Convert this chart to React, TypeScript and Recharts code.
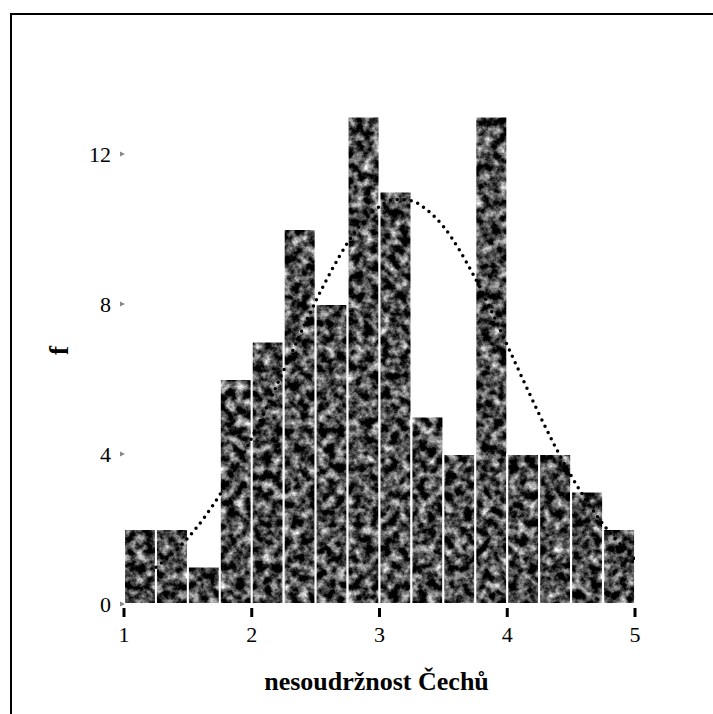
import React from 'react'
import { ComposedChart, Bar, Line, XAxis, YAxis, Label } from 'recharts'

// histogram bins (lower edge of each 0.25-wide class)
const binStarts = [1, 1.25, 1.5, 1.75, 2, 2.25, 2.5, 2.75, 3, 3.25, 3.5, 3.75, 4, 4.25, 4.5, 4.75]
const frequencies = [2, 2, 1, 6, 7, 10, 8, 13, 11, 5, 4, 13, 4, 4, 3, 2]

// fitted normal curve, read at 0.125 steps
const curveX = [
  1.25, 1.375, 1.5, 1.625, 1.75, 1.875, 2, 2.125, 2.25, 2.375, 2.5, 2.625, 2.75, 2.875, 3, 3.125,
  3.25, 3.375, 3.5, 3.625, 3.75, 3.875, 4, 4.125, 4.25, 4.375, 4.5, 4.625, 4.75, 4.875, 5,
]
const curveF = [
  0.98, 1.33, 1.76, 2.29, 2.91, 3.63, 4.43, 5.31, 6.23, 7.16, 8.07, 8.9, 9.63, 10.2, 10.6, 10.79,
  10.75, 10.5, 10.07, 9.44, 8.68, 7.82, 6.9, 5.97, 5.06, 4.2, 3.42, 2.73, 2.13, 1.63, 1.22,
]

const xTicks = [1, 2, 3, 4, 5]
const yTicks = [0, 4, 8, 12]

const xLabel = 'nesoudržnost Čechů'
const yLabel = 'f'

const histData = binStarts.map((b, i) => ({ bin: String(b), f: frequencies[i] }))
const curveData = curveX.map((x, i) => ({ x, f: curveF[i] }))

const serif = '"Liberation Serif", "Times New Roman", serif'

// the number axis sits below the hidden category axis, so its tick y runs ~29px under the plot edge
function XTick({ x, y, payload }: any) {
  return (
    <g>
      <rect x={x - 1.5} y={y - 26} width={3} height={9} fill="#000" />
      <text x={x} y={y + 8} textAnchor="middle" fontFamily={serif} fontSize={22} fill="#000">
        {payload.value}
      </text>
    </g>
  )
}

function YTick({ x, y, payload }: any) {
  return (
    <g>
      <polygon points={`${x - 4},${y - 2.5} ${x + 1},${y} ${x - 4},${y + 2.5}`} fill="#888" />
      <text x={x - 13} y={y} dy="0.35em" textAnchor="end" fontFamily={serif} fontSize={22} fill="#000">
        {payload.value}
      </text>
    </g>
  )
}

export default function App() {
  return (
    <div style={{ position: 'absolute', left: 0, top: 0, width: 713, height: 714, background: '#fff', overflow: 'hidden' }}>
      <div
        style={{
          position: 'absolute',
          left: 10,
          top: 13,
          width: 720,
          height: 720,
          borderLeft: '2px solid #000',
          borderTop: '2px solid #000',
        }}
      />
      <ComposedChart
        width={713}
        height={714}
        data={histData}
        margin={{ top: 79, right: 78, bottom: 0, left: 0 }}
        barCategoryGap={0}
        barGap={0}
        style={{ position: 'absolute', left: 0, top: 0 }}
      >
        <defs>
          {/* mottled grey fill for the bars */}
          <filter
            id="grain"
            x="0"
            y="0"
            width="1"
            height="1"
            filterUnits="objectBoundingBox"
            colorInterpolationFilters="sRGB"
          >
            <feTurbulence type="fractalNoise" baseFrequency="0.11" numOctaves={5} seed={7} />
            <feColorMatrix
              type="matrix"
              values="1.9 0 0 0 -0.66  1.9 0 0 0 -0.66  1.9 0 0 0 -0.66  0 0 0 0 1"
            />
          </filter>
          <pattern id="tex" patternUnits="userSpaceOnUse" x={0} y={0} width={713} height={714}>
            <rect width={713} height={714} fill="#333" filter="url(#grain)" />
          </pattern>
        </defs>
        <XAxis xAxisId="cat" dataKey="bin" type="category" hide />
        <XAxis
          xAxisId="num"
          dataKey="x"
          type="number"
          domain={[1, 5]}
          ticks={xTicks}
          allowDataOverflow
          axisLine={false}
          tickLine={false}
          tickSize={0}
          tickMargin={0}
          height={110}
          tick={<XTick />}
          interval={0}
        >
          <Label
            content={({ viewBox }: any) => (
              <text
                x={viewBox.x + viewBox.width / 2 - 3}
                y={viewBox.y + 56}
                textAnchor="middle"
                fontFamily={serif}
                fontWeight="bold"
                fontSize={26}
                fill="#000"
              >
                {xLabel}
              </text>
            )}
          />
        </XAxis>
        <YAxis
          domain={[0, 14]}
          ticks={yTicks}
          axisLine={false}
          tickLine={false}
          tickSize={0}
          tickMargin={0}
          width={124}
          tick={<YTick />}
          interval={0}
        >
          <Label
            content={({ viewBox }: any) => {
              const cx = viewBox.x + 59
              const cy = viewBox.y + viewBox.height / 2 + 9
              return (
                <text
                  x={cx}
                  y={cy}
                  transform={`rotate(-90 ${cx} ${cy})`}
                  textAnchor="middle"
                  dy="0.35em"
                  fontFamily={serif}
                  fontWeight="bold"
                  fontSize={27}
                  fill="#000"
                >
                  {yLabel}
                </text>
              )
            }}
          />
        </YAxis>
        <Bar xAxisId="cat" dataKey="f" fill="url(#tex)" stroke="#fff" strokeWidth={2} isAnimationActive={false} />
        <Line
          xAxisId="num"
          data={curveData}
          dataKey="f"
          type="monotone"
          stroke="#000"
          strokeWidth={3.5}
          strokeDasharray="0 7"
          strokeLinecap="round"
          dot={false}
          activeDot={false}
          isAnimationActive={false}
        />
      </ComposedChart>
    </div>
  )
}
